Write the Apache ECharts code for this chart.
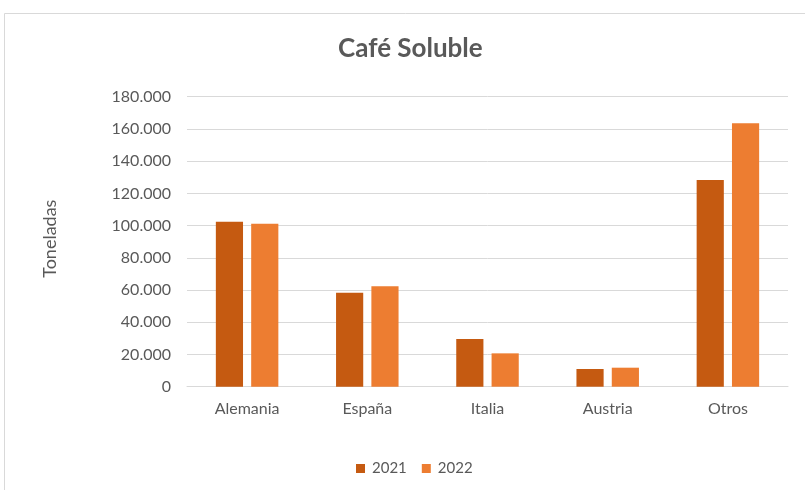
<!DOCTYPE html>
<html><head><meta charset="utf-8">
<script src="https://cdn.jsdelivr.net/npm/echarts@6/dist/echarts.min.js"></script>
<style>html,body{margin:0;padding:0;background:#fff}#c{width:805px;height:490px}</style>
</head><body><div id="c"></div>
<script>
const categories = ['Alemania', 'España', 'Italia', 'Austria', 'Otros'];
const values2021 = [102400, 58300, 29600, 11000, 128300];
const values2022 = [101200, 62300, 20700, 11800, 163500];
const seriesNames = ['2021', '2022'];
const yTicks = { min: 0, max: 180000, interval: 20000 };

const chart = echarts.init(document.getElementById('c'), null, { renderer: 'canvas' });
const font = 'Lato, "Open Sans", sans-serif';
const fmt = v => v === 0 ? '0' : String(v).replace(/\B(?=(\d{3})+(?!\d))/g, '.');
chart.setOption({
  animation: false,
  backgroundColor: '#fff',
  graphic: [{ type: 'rect', shape: { x: 4.5, y: 13.5, width: 820, height: 500 }, style: { fill: 'none', stroke: '#d9d9d9', lineWidth: 1 }, silent: true }],
  title: { text: 'Café Soluble', left: 333, top: 31, textStyle: { fontFamily: font, fontSize: 26, fontWeight: 'bold', color: '#595959' } },
  legend: { bottom: 9, left: 351, itemWidth: 9, itemHeight: 9, itemGap: 15, icon: 'rect',
    textStyle: { fontFamily: font, fontSize: 15, color: '#595959', padding: [0, 0, 0, 2] }, data: seriesNames },
  grid: { left: 187, right: 17, top: 96.7, bottom: 103.3, containLabel: false },
  xAxis: { type: 'category', data: categories,
    axisLine: { lineStyle: { color: '#d9d9d9', width: 1 } }, axisTick: { show: false },
    axisLabel: { fontFamily: font, fontSize: 16, color: '#595959', margin: 14 } },
  yAxis: { type: 'value', min: yTicks.min, max: yTicks.max, interval: yTicks.interval,
    name: 'Toneladas', nameLocation: 'middle', nameGap: 128, nameRotate: 90,
    nameTextStyle: { fontFamily: font, fontSize: 18, color: '#595959', padding: [0, 0, 0, 6] },
    axisLine: { show: false }, axisTick: { show: false },
    axisLabel: { fontFamily: font, fontSize: 16, color: '#595959', margin: 16, formatter: fmt },
    splitLine: { lineStyle: { color: '#d9d9d9', width: 1 } } },
  series: [
    { name: seriesNames[0], type: 'bar', data: values2021, barGap: '30%', barCategoryGap: '48%',
      itemStyle: { color: '#c55a11' } },
    { name: seriesNames[1], type: 'bar', data: values2022, barGap: '30%', barCategoryGap: '48%',
      itemStyle: { color: '#ed7d31' } }
  ]
});
</script></body></html>
